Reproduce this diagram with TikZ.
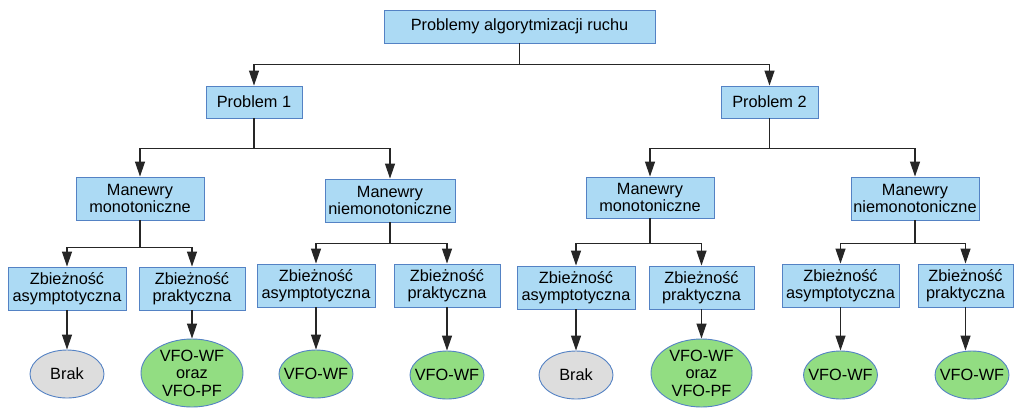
\documentclass[tikz,border=0pt]{standalone}
\usepackage{fontspec}
\setmainfont{Liberation Sans}
\usetikzlibrary{arrows.meta,shapes.geometric}
\definecolor{boxfill}{RGB}{172,218,244}
\definecolor{boxline}{RGB}{84,130,196}
\definecolor{greenfill}{RGB}{146,221,130}
\definecolor{grayfill}{RGB}{221,221,221}
\tikzset{
  box/.style={draw=boxline, fill=boxfill, line width=0.9pt, inner sep=0pt, align=center,
    font=\fontsize{16.3}{17.5}\selectfont, text=black},
  oval/.style={ellipse, draw=boxline, line width=0.9pt, inner sep=-6pt, align=center,
    font=\fontsize{16.3}{17.5}\selectfont, text=black},
  gray oval/.style={oval, fill=grayfill},
  green oval/.style={oval, fill=greenfill},
  conn/.style={draw=black!85, line width=1.2pt},
  stem/.style={draw=black!85, line width=1.8pt},
  arr/.style={conn, -{Triangle[width=10pt,length=15pt]}},
}
\begin{document}
\begin{tikzpicture}[x=1pt,y=-1pt]
\useasboundingbox[fill=white] (0,0) rectangle (1019,408);
% level 1
\node[box, minimum width=271, minimum height=33] (top) at (519.5,26.5) {Problemy algorytmizacji ruchu};
% level 2
\node[box, minimum width=96, minimum height=32] (p1) at (254,102) {Problem 1};
\node[box, minimum width=97, minimum height=32] (p2) at (769.5,102) {Problem 2};
% level 3
\node[box, minimum width=128, minimum height=43] (m1) at (140,198.5) {Manewry\\monotoniczne};
\node[box, minimum width=130, minimum height=43] (n1) at (390,200.5) {Manewry\\niemonotoniczne};
\node[box, minimum width=128, minimum height=41] (m2) at (650,197.5) {Manewry\\monotoniczne};
\node[box, minimum width=128, minimum height=43] (n2) at (915,198.5) {Manewry\\niemonotoniczne};
% level 4
\node[box, minimum width=118, minimum height=43] (a1) at (67,288.5) {Zbieżność\\asymptotyczna};
\node[box, minimum width=106, minimum height=43] (r1) at (192,288.5) {Zbieżność\\praktyczna};
\node[box, minimum width=118, minimum height=43] (a2) at (316,285.5) {Zbieżność\\asymptotyczna};
\node[box, minimum width=106, minimum height=43] (r2) at (447,285.5) {Zbieżność\\praktyczna};
\node[box, minimum width=118, minimum height=43] (a3) at (576,287.5) {Zbieżność\\asymptotyczna};
\node[box, minimum width=105, minimum height=43] (r3) at (701.5,287.5) {Zbieżność\\praktyczna};
\node[box, minimum width=117, minimum height=43] (a4) at (840.5,285.5) {Zbieżność\\asymptotyczna};
\node[box, minimum width=95, minimum height=43] (r4) at (965.5,285.5) {Zbieżność\\praktyczna};
% level 5
\node[gray oval, minimum width=74, minimum height=48] (e1) at (67,374) {Brak};
\node[green oval, minimum width=102, minimum height=68] (e2) at (192,373) {VFO-WF\\oraz\\VFO-PF};
\node[green oval, minimum width=74, minimum height=48] (e3) at (316,374) {VFO-WF};
\node[green oval, minimum width=74, minimum height=48] (e4) at (447,375) {VFO-WF};
\node[gray oval, minimum width=74, minimum height=48] (e5) at (576,375) {Brak};
\node[green oval, minimum width=101, minimum height=68] (e6) at (701.5,373) {VFO-WF\\oraz\\VFO-PF};
\node[green oval, minimum width=74, minimum height=48] (e7) at (840.5,375) {VFO-WF};
\node[green oval, minimum width=74, minimum height=48] (e8) at (972,375) {VFO-WF};
% connectors level 1 -> 2
\draw[stem] (top.south) -- ++(0,21) coordinate (jt);
\draw[arr] (jt) -| (p1.north);
\draw[arr] (jt) -| (p2.north);
% level 2 -> 3
\draw[stem] (p1.south) -- ++(0,30) coordinate (j1);
\draw[arr] (j1) -| (m1.north);
\draw[arr] (j1) -| (n1.north);
\draw[stem] (p2.south) -- ++(0,30) coordinate (j2);
\draw[arr] (j2) -| (m2.north);
\draw[arr] (j2) -| (n2.north);
% level 3 -> 4
\draw[stem] (m1.south) -- ++(0,27) coordinate (k1);
\draw[arr] (k1) -| (a1.north);
\draw[arr] (k1) -| (r1.north);
\draw[stem] (n1.south) -- ++(0,21) coordinate (k2);
\draw[arr] (k2) -| (a2.north);
\draw[arr] (k2) -| (r2.north);
\draw[stem] (m2.south) -- ++(0,25) coordinate (k3);
\draw[arr] (k3) -| (a3.north);
\draw[arr] (k3) -| (r3.north);
\draw[stem] (n2.south) -- ++(0,23) coordinate (k4);
\draw[arr] (k4) -| (a4.north);
\draw[arr] (k4) -| (r4.north);
% level 4 -> 5
\draw[arr] (a1.south) -- (e1.north);
\draw[arr] (r1.south) -- (r1.south |- e2.north);
\draw[arr] (a2.south) -- (e3.north);
\draw[arr] (r2.south) -- (e4.north);
\draw[arr] (a3.south) -- (e5.north);
\draw[arr] (r3.south) -- (r3.south |- e6.north);
\draw[arr] (a4.south) -- (a4.south |- e7.north);
\draw[arr] (r4.south) -- (r4.south |- e8.north);
\end{tikzpicture}
\end{document}
